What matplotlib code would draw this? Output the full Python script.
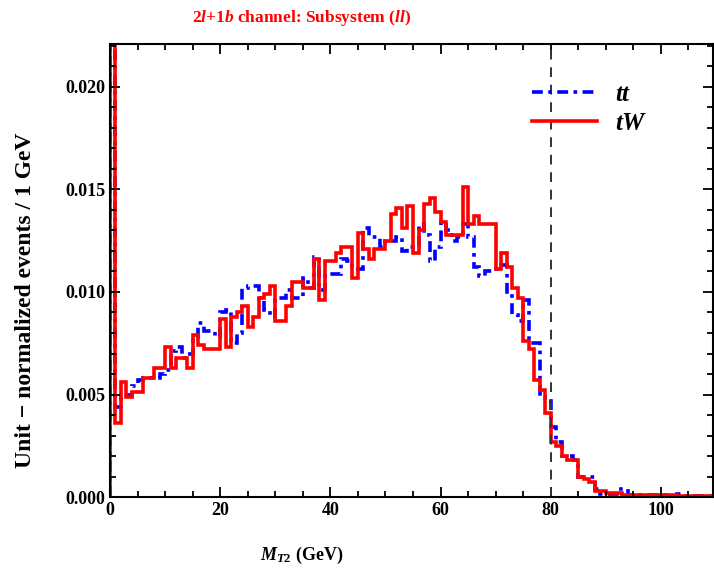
import numpy as np
import matplotlib
matplotlib.use("Agg")
import matplotlib.pyplot as plt
from matplotlib.ticker import MultipleLocator, FormatStrFormatter

plt.rcParams['font.family'] = 'Liberation Serif'
plt.rcParams['font.weight'] = 'bold'
plt.rcParams['axes.labelweight'] = 'bold'
plt.rcParams['axes.titleweight'] = 'bold'
plt.rcParams['mathtext.fontset'] = 'custom'
plt.rcParams['mathtext.rm'] = 'Liberation Serif:bold'
plt.rcParams['mathtext.it'] = 'Liberation Serif:italic:bold'
plt.rcParams['mathtext.bf'] = 'Liberation Serif:bold'

# 1 GeV bins, 0..110 GeV, unit-normalized
edges = np.arange(0, 111, 1)

tt = [0.030, 0.0044, 0.0050, 0.0050, 0.0054, 0.0057, 0.0058, 0.0058, 0.0058, 0.0060,
      0.0062, 0.0071, 0.0073, 0.0068, 0.0070, 0.0076, 0.0085, 0.0081, 0.0081, 0.0078,
      0.0090, 0.0091, 0.0075, 0.0080, 0.0102, 0.0103, 0.0103, 0.0097, 0.0091, 0.0088,
      0.0097, 0.0097, 0.0101, 0.0097, 0.0097, 0.0107, 0.0102, 0.0117, 0.0101, 0.0108,
      0.0109, 0.0109, 0.0116, 0.0115, 0.0111, 0.0111, 0.0131, 0.0127, 0.0127, 0.0122,
      0.0125, 0.0125, 0.0127, 0.0120, 0.0122, 0.0123, 0.0133, 0.0128, 0.0115, 0.0122,
      0.0134, 0.0130, 0.0125, 0.0127, 0.0133, 0.0127, 0.0112, 0.0108, 0.0110, 0.0110,
      0.0111, 0.0113, 0.0099, 0.0089, 0.0086, 0.0096, 0.0075, 0.0075, 0.0049, 0.0047,
      0.0034, 0.0027, 0.0020, 0.0020, 0.0018, 0.0010, 0.0010, 0.0010, 0.0004, 0.00015,
      0.00015, 0.00015, 0.0004, 0.0004, 0.0001, 0.0001, 0.0001, 0.0001, 0.0001, 0.0001,
      0.0001, 0.00005, 0.00005, 0.00015, 0.00005, 0.00005, 0.00005, 0.00005, 0.00005, 0.00005]

tW = [0.045, 0.0036, 0.0056, 0.0049, 0.0051, 0.0051, 0.0058, 0.0058, 0.0063, 0.0063,
      0.0073, 0.0063, 0.0068, 0.0068, 0.0063, 0.0079, 0.0074, 0.0072, 0.0072, 0.0072,
      0.0087, 0.0073, 0.0088, 0.0090, 0.0093, 0.0083, 0.0088, 0.0097, 0.0099, 0.0103,
      0.0086, 0.0086, 0.0093, 0.0105, 0.0105, 0.0102, 0.0102, 0.0116, 0.0096, 0.0115,
      0.0115, 0.0119, 0.0122, 0.0122, 0.0107, 0.0129, 0.0121, 0.0116, 0.0121, 0.0121,
      0.0125, 0.0138, 0.0141, 0.0131, 0.0142, 0.0119, 0.0130, 0.0143, 0.0146, 0.0139,
      0.0134, 0.0128, 0.0128, 0.0128, 0.0151, 0.0133, 0.0137, 0.0133, 0.0133, 0.0133,
      0.0111, 0.0119, 0.0112, 0.0102, 0.0097, 0.0076, 0.0072, 0.0057, 0.0052, 0.0041,
      0.0027, 0.0025, 0.0020, 0.0018, 0.0018, 0.0010, 0.0009, 0.00075, 0.0003, 0.0003,
      0.0002, 0.0002, 0.0002, 0.0001, 0.0001, 0.0001, 0.0001, 0.0001, 0.0001, 0.0001,
      0.0001, 0.0001, 0.0001, 0.00005, 0.00005, 0.00005, 0.00005, 0.00005, 0.00005, 0.00005]

w_mass = 80

fig = plt.figure(figsize=(7.14, 5.70), dpi=100)
ax = fig.add_axes([0.154, 0.128, 0.845, 0.795])

ax.stairs(tt, edges, color='blue', lw=2.6, linestyle=(0, (3, 1.5, 1, 1.5)), label='$tt$')
ax.stairs(tW, edges, color='red', lw=2.6, label='$tW$')
ax.axvline(w_mass, color='#333333', lw=1.4, linestyle=(0, (5, 4)))

ax.set_xlim(0, 109.5)
ax.set_ylim(0, 0.0221)
ax.xaxis.set_major_locator(MultipleLocator(20))
ax.xaxis.set_minor_locator(MultipleLocator(5))
ax.yaxis.set_major_locator(MultipleLocator(0.005))
ax.yaxis.set_minor_locator(MultipleLocator(0.001))
ax.yaxis.set_major_formatter(FormatStrFormatter('%.3f'))
ax.tick_params(which='both', direction='in', top=True, right=True, labelsize=13, width=1.3)
ax.tick_params(which='major', length=7)
ax.tick_params(which='minor', length=4)
for s in ax.spines.values():
    s.set_linewidth(1.5)

ax.set_xlabel('$M_{T2}$ (GeV)', fontsize=13)
ax.xaxis.set_label_coords(0.318, -0.105)
ax.set_ylabel('Unit − normalized events / 1 GeV', fontsize=17)
ax.yaxis.set_label_coords(-0.123, 0.435)
fig.text(0.423, 0.968, '2$l$+1$b$ channel: Subsystem ($ll$)', color='red', fontsize=12.5,
         fontweight='bold', ha='center', va='center')

ax.legend(loc='upper left', bbox_to_anchor=(0.700, 0.914), frameon=False, fontsize=18,
          borderpad=0, borderaxespad=0, handlelength=2.6, handletextpad=0.7,
          labelspacing=0.25)

fig.savefig('out.png', dpi=100)
